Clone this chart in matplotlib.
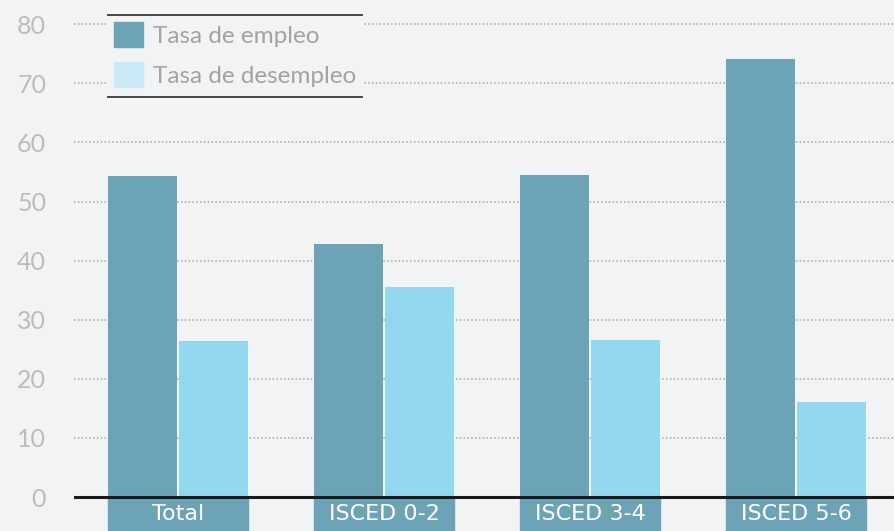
import matplotlib.pyplot as plt
from matplotlib.patches import Rectangle
from matplotlib.lines import Line2D
import numpy as np

categories = ['Total', 'ISCED 0-2', 'ISCED 3-4', 'ISCED 5-6']
empleo = [54.3, 42.8, 54.5, 74.1]
desempleo = [26.4, 35.5, 26.6, 16.1]
yticks = [0, 10, 20, 30, 40, 50, 60, 70, 80]

bg = '#f2f3f5'
c_emp = '#6da3b6'
c_des = '#94d8f0'
grey = '#bcbcbc'

plt.rcParams['font.family'] = ['Lato', 'DejaVu Sans']

fig = plt.figure(figsize=(8.94, 5.31), dpi=100, facecolor=bg)
ax = fig.add_axes([74 / 894, 0, 1 - 74 / 894, 1], facecolor=bg)

x = np.arange(len(categories))
w = 0.335
off = 0.173
ax.bar(x - off, empleo, w, color=c_emp, zorder=2)
ax.bar(x + off, desempleo, w, color=c_des, zorder=2)

ax.set_xlim(-0.505, 3.476)
ax.set_ylim(-5.75, 84.1)

# category label boxes under the baseline
for i, cat in enumerate(categories):
    ax.add_patch(Rectangle((i - 0.34, -5.75), 0.68, 5.75, color=c_emp, zorder=2))
    ax.text(i, -2.85, cat, ha='center', va='center', color='white',
            fontsize=16, family='DejaVu Sans', zorder=3)

for t in yticks[1:]:
    ax.axhline(t, color='#a8a8a8', lw=1.1, ls=(0, (1, 1.5)), zorder=1)
ax.axhline(0, color='#1a1a1a', lw=2.2, zorder=4)

ax.set_yticks(yticks)
ax.set_yticklabels([str(t) for t in yticks], color=grey, fontsize=18)
ax.tick_params(axis='y', length=0, pad=20)
ax.set_xticks([])
for s in ax.spines.values():
    s.set_visible(False)

# legend area
fig.add_artist(Rectangle((108 / 894, 1 - 97 / 531), (362 - 108) / 894, (97 - 15) / 531,
                         transform=fig.transFigure, color=bg, zorder=5))
for yy in (15, 97):
    fig.add_artist(Line2D([108 / 894, 362 / 894], [1 - yy / 531, 1 - yy / 531],
                          transform=fig.transFigure, color='#3a3a3a', lw=1.3, zorder=6))
h1 = Rectangle((0, 0), 1, 1, color=c_emp)
h2 = Rectangle((0, 0), 1, 1, color='#c8e9f5')
leg = fig.legend([h1, h2], ['Tasa de empleo', 'Tasa de desempleo'], loc='upper left',
                 bbox_to_anchor=(114 / 894, 1 - 22 / 531), frameon=False, fontsize=17.5,
                 handlelength=1.2, handleheight=1.2, labelspacing=0.62,
                 handletextpad=0.4, borderaxespad=0, borderpad=0)
for t in leg.get_texts():
    t.set_color('#a3a3a3')
leg.set_zorder(7)

fig.savefig('out.png', dpi=100, facecolor=bg)
